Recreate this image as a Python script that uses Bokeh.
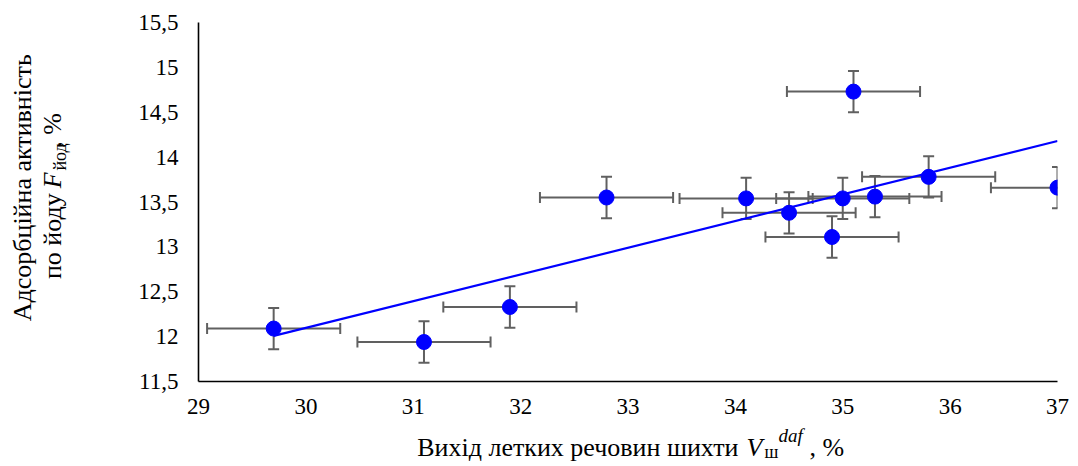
import numpy as np
from math import pi
from bokeh.plotting import figure
from bokeh.layouts import row, column
from bokeh.models import Range1d, FixedTicker, CustomJSTickFormatter
from bokeh.core.properties import value
from bokeh.embed import file_html
from bokeh.resources import INLINE

# ---- data ----
x_vals = [29.7, 31.1, 31.9, 32.8, 34.1, 34.5, 34.9, 35.0, 35.3, 35.8, 35.1, 37.0]
y_vals = [12.09, 11.94, 12.33, 13.55, 13.54, 13.38, 13.11, 13.54, 13.56, 13.78, 14.73, 13.66]
x_err = [0.62] * len(x_vals)
y_err = [0.23] * len(y_vals)
x_ticks = [29, 30, 31, 32, 33, 34, 35, 36, 37]
y_ticks = [11.5, 12, 12.5, 13, 13.5, 14, 14.5, 15, 15.5]

FONT = "Liberation Serif"
ERR_COLOR = "#606060"

# ---- layout sizes ----
TOTAL_W, TOTAL_H = 1070, 466
YT_W = 100           # y-title strip width
MAIN_H = 426         # main plot height
XT_H = TOTAL_H - MAIN_H

xa = np.array(x_vals)
ya = np.array(y_vals)
xe = np.array(x_err)
ye = np.array(y_err)

p = figure(width=TOTAL_W - YT_W, height=MAIN_H, output_backend="svg", toolbar_location=None,
           x_range=Range1d(29, 37), y_range=Range1d(11.5, 15.5),
           min_border_left=98, min_border_right=13, min_border_top=22, min_border_bottom=45)
p.outline_line_color = None
p.xgrid.visible = False
p.ygrid.visible = False

fmt = CustomJSTickFormatter(code="return tick.toString().replace('.', ',');")
for ax, ticks in ((p.xaxis[0], x_ticks), (p.yaxis[0], y_ticks)):
    ax.ticker = FixedTicker(ticks=ticks)
    ax.formatter = fmt
    ax.major_tick_in = 0
    ax.major_tick_out = 0
    ax.minor_tick_in = 0
    ax.minor_tick_out = 0
    ax.axis_line_color = "black"
    ax.axis_line_width = 1.6
    ax.major_label_text_font = FONT
    ax.major_label_text_font_size = "23px"
    ax.major_label_text_color = "black"
p.yaxis[0].major_label_standoff = 20
p.xaxis[0].major_label_standoff = 17

# error bars (glyphs, clipped to frame)
p.segment(x0=xa - xe, y0=ya, x1=xa + xe, y1=ya, line_color=ERR_COLOR, line_width=2)
p.segment(x0=xa, y0=ya - ye, x1=xa, y1=ya + ye, line_color=ERR_COLOR, line_width=2)
p.scatter(x=np.concatenate([xa - xe, xa + xe]), y=np.concatenate([ya, ya]),
          marker="dash", size=11, angle=pi / 2, line_color=ERR_COLOR, line_width=2)
p.scatter(x=np.concatenate([xa, xa]), y=np.concatenate([ya - ye, ya + ye]),
          marker="dash", size=11, line_color=ERR_COLOR, line_width=2)

# linear trend line (least squares)
k, b = np.polyfit(xa, ya, 1)
tx = np.array([xa.min(), xa.max()])
p.line(tx, k * tx + b, line_color="#0000FF", line_width=2.2)

# points
p.scatter(xa, ya, size=15, fill_color="#0000FF", line_color="#0000FF")


def blank(w, h):
    f = figure(width=w, height=h, output_backend="svg", toolbar_location=None,
               x_range=Range1d(0, w), y_range=Range1d(0, h),
               x_axis_type=None, y_axis_type=None,
               min_border_left=0, min_border_right=0, min_border_top=0, min_border_bottom=0)
    f.outline_line_color = None
    f.xgrid.visible = False
    f.ygrid.visible = False
    return f


BASE_FIX = 0.32   # empirical baseline correction (fraction of font size)
ALONG_FIX = 0.37  # empirical along-text correction for rotated text


def txt(f, h, text, px, py, size=26, style="normal", align="left", rotated=False):
    # px, py: intended baseline pixel position inside this strip (py measured from top)
    if rotated:
        px -= BASE_FIX * size
        py += ALONG_FIX * size
    else:
        py -= BASE_FIX * size
    f.text(x=[px], y=[h - py], text=[text], text_font=value(FONT),
           text_font_size=value(f"{size}px"), text_font_style=style, text_color="black",
           text_align=align, text_baseline="alphabetic", angle=pi / 2 if rotated else 0.0)


# y-axis title strip (page x 0..YT_W, y 0..MAIN_H)
yt = blank(YT_W, MAIN_H)
txt(yt, MAIN_H, "Адсорбційна активність", 30.5, 186.5, align="center", rotated=True)
F_START = 187
txt(yt, MAIN_H, "по йоду", 60.5, F_START + 6, align="right", rotated=True)
txt(yt, MAIN_H, "F", 60.5, F_START, style="italic", rotated=True)
txt(yt, MAIN_H, "йод", 65.5, F_START - 18, size=18, rotated=True)
txt(yt, MAIN_H, ", %", 60.5, F_START - 48, rotated=True)

# x-axis title strip (page x 0..TOTAL_W, y MAIN_H..TOTAL_H)
xt = blank(TOTAL_W, XT_H)
off = MAIN_H
txt(xt, XT_H, "Вихід летких речовин шихти", 416.7, 455 - off)
txt(xt, XT_H, "V", 746, 455 - off, style="italic")
txt(xt, XT_H, "ш", 764, 457 - off, size=18)
txt(xt, XT_H, "daf", 778, 441.5 - off, size=19, style="italic")
txt(xt, XT_H, ", %", 809, 455 - off)

layout = column(row(yt, p), xt)
open("out.html", "w").write(file_html(layout, INLINE))
